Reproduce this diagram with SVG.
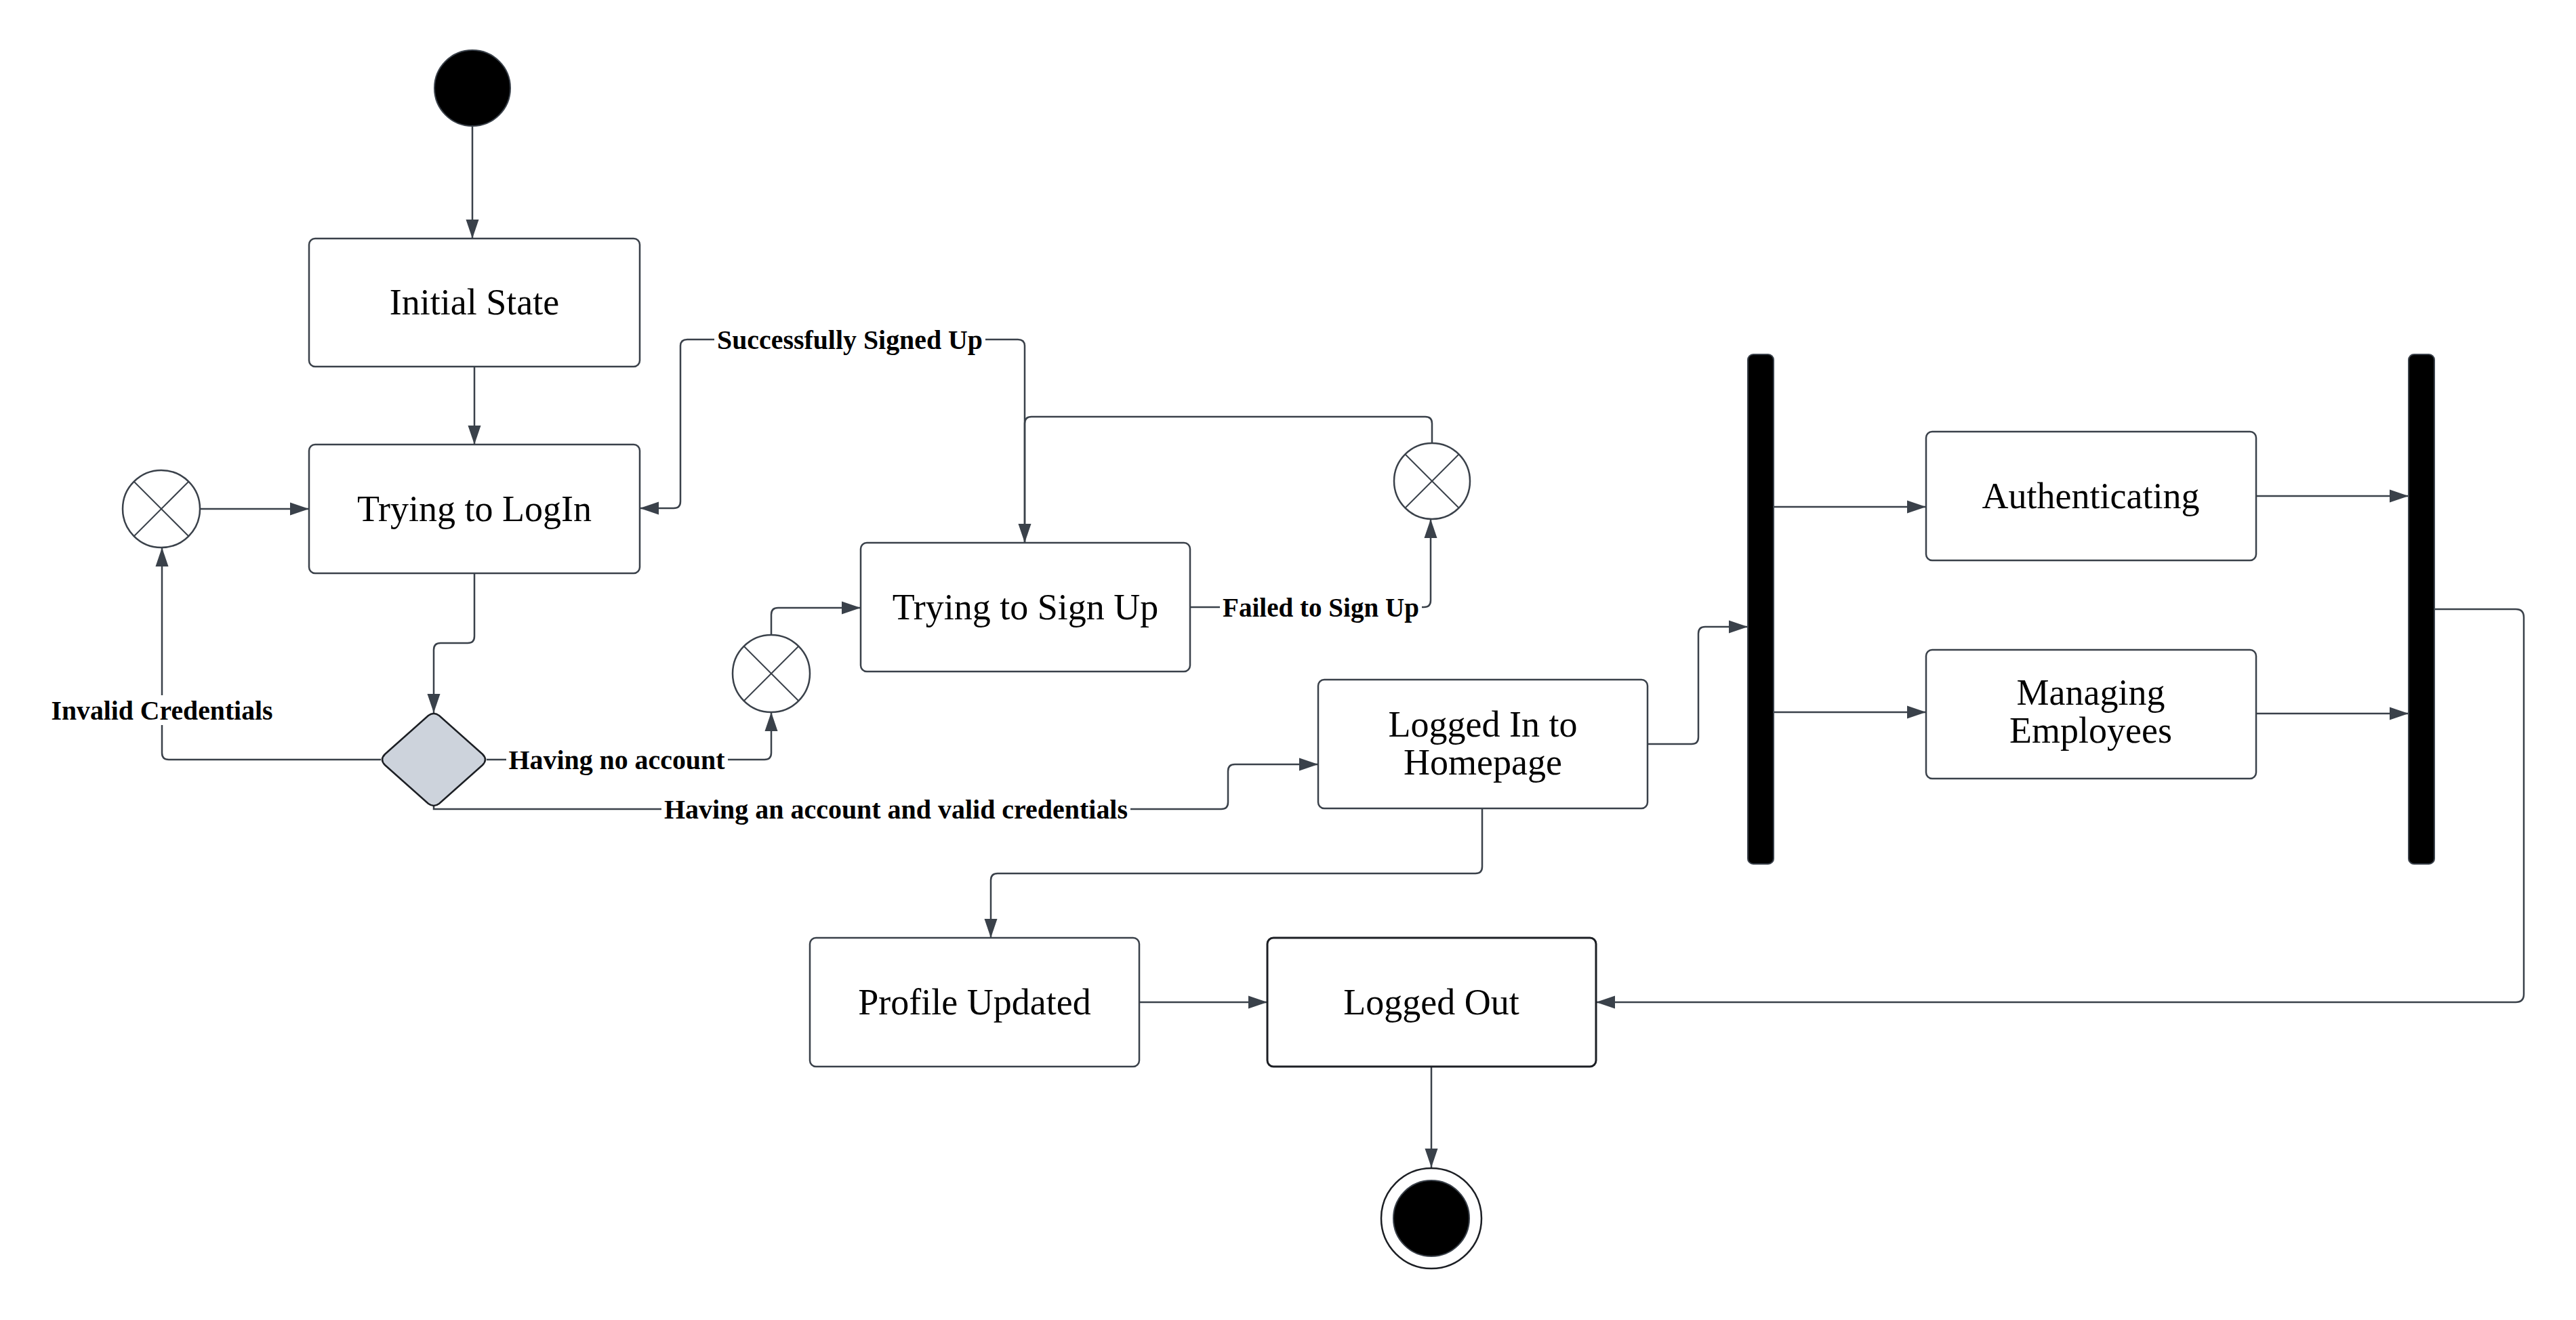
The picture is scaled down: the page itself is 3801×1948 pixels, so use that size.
<svg xmlns="http://www.w3.org/2000/svg" width="3801" height="1948" viewBox="0 0 3801 1948">
<style>
.box{fill:#fff;stroke:#3a414a;stroke-width:2.5}
.dark{fill:#fff;stroke:#1c1f24;stroke-width:3}
.t{font-family:"Liberation Serif",serif;font-size:54px;fill:#000;text-anchor:middle;dominant-baseline:central}
.lbl{font-family:"Liberation Serif",serif;font-size:39px;font-weight:bold;fill:#000;text-anchor:middle;dominant-baseline:central}
.bg{fill:#fff;stroke:none}
.c{fill:none;stroke:#3a414a;stroke-width:2.5}
.ca{fill:none;stroke:#3a414a;stroke-width:2.5;marker-end:url(#arr)}
.x{fill:#fff;stroke:#3a414a;stroke-width:2.5}
.xl{stroke:#3a414a;stroke-width:2}
.bar{fill:#000;stroke:#3a414a;stroke-width:2}
</style>
<defs>
<marker id="arr" markerUnits="userSpaceOnUse" markerWidth="28" markerHeight="20" refX="28" refY="10" orient="auto">
<path d="M0,0.5 L28,10 L0,19.5 z" fill="#3a414a"/>
</marker>
</defs>
<rect width="3801" height="1948" fill="#fff"/>

<g id="connectors">
<path class="ca" d="M697,186 L697,352"/>
<path class="ca" d="M700,541 L700,656"/>
<path class="ca" d="M295,751 L456,751"/>
<path class="ca" d="M700,846 L700,939 Q700,949 690,949 L650,949 Q640,949 640,959 L640,1052"/>
<path class="ca" d="M562,1121 L249,1121 Q239,1121 239,1111 L239,808"/>
<path class="ca" d="M718,1121 L1128,1121 Q1138,1121 1138,1111 L1138,1051"/>
<path class="ca" d="M1138,937 L1138,907 Q1138,897 1148,897 L1270,897"/>
<path class="ca" d="M640,1190 L640,1194 L1802,1194 Q1812,1194 1812,1184 L1812,1138 Q1812,1128 1822,1128 L1945,1128"/>
<path class="ca" d="M1512,801 L1512,511 Q1512,501 1502,501 L1014,501 Q1004,501 1004,511 L1004,740 Q1004,750 994,750 L944,750"/>
<path class="ca" d="M2113,654 L2113,625 Q2113,615 2103,615 L1522,615 Q1512,615 1512,625 L1512,801"/>
<path class="ca" d="M1756,896 L2101,896 Q2111,896 2111,886 L2111,766"/>
<path class="ca" d="M2431,1098 L2496,1098 Q2506,1098 2506,1088 L2506,935 Q2506,925 2516,925 L2579,925"/>
<path class="ca" d="M2617,748 L2842,748"/>
<path class="ca" d="M2617,1051 L2842,1051"/>
<path class="ca" d="M3329,732 L3554,732"/>
<path class="ca" d="M3329,1053 L3554,1053"/>
<path class="ca" d="M3592,899 L3712,899 Q3724,899 3724,911 L3724,1467 Q3724,1479 3712,1479 L2355,1479"/>
<path class="ca" d="M2187,1193 L2187,1279 Q2187,1289 2177,1289 L1472,1289 Q1462,1289 1462,1299 L1462,1384"/>
<path class="ca" d="M1681,1479 L1870,1479"/>
<path class="ca" d="M2112,1574 L2112,1723"/>

<rect class="bg" x="71" y="1026" width="335" height="44"/>
<text class="lbl" x="239" y="1048" textLength="327" lengthAdjust="spacingAndGlyphs">Invalid Credentials</text>
<rect class="bg" x="747" y="1099" width="327" height="44"/>
<text class="lbl" x="910" y="1121" textLength="319" lengthAdjust="spacingAndGlyphs">Having no account</text>
<rect class="bg" x="1054" y="479" width="400" height="44"/>
<text class="lbl" x="1254" y="501" textLength="392" lengthAdjust="spacingAndGlyphs">Successfully Signed Up</text>
<rect class="bg" x="1800" y="874" width="298" height="44"/>
<text class="lbl" x="1949" y="896" textLength="290" lengthAdjust="spacingAndGlyphs">Failed to Sign Up</text>
<rect class="bg" x="976" y="1172" width="692" height="44"/>
<text class="lbl" x="1322" y="1194" textLength="684" lengthAdjust="spacingAndGlyphs">Having an account and valid credentials</text>
</g>

<g id="start"><circle cx="697" cy="130" r="56" fill="#000" stroke="#3a414a" stroke-width="2"/></g>

<g id="initial-state"><rect class="box" x="456" y="352" width="488" height="189" rx="9"/><text class="t" x="700" y="446">Initial State</text></g>
<g id="trying-login"><rect class="box" x="456" y="656" width="488" height="190" rx="9"/><text class="t" x="700" y="751">Trying to LogIn</text></g>

<g id="merge-left"><circle class="x" cx="238" cy="751" r="57"/><line class="xl" x1="198" y1="711" x2="278" y2="791"/><line class="xl" x1="278" y1="711" x2="198" y2="791"/></g>
<g id="merge-mid"><circle class="x" cx="1138" cy="994" r="57"/><line class="xl" x1="1098" y1="954" x2="1178" y2="1034"/><line class="xl" x1="1178" y1="954" x2="1098" y2="1034"/></g>
<g id="merge-right"><circle class="x" cx="2113" cy="710" r="56"/><line class="xl" x1="2073" y1="670" x2="2153" y2="750"/><line class="xl" x1="2153" y1="670" x2="2073" y2="750"/></g>

<g id="decision"><path d="M632,1056 Q640,1050 648,1056 L712,1113 Q720,1121 712,1129 L648,1186 Q640,1192 632,1186 L568,1129 Q560,1121 568,1113 Z" fill="#cdd3dc" stroke="#1c1f24" stroke-width="2.5"/></g>

<g id="trying-signup"><rect class="box" x="1270" y="801" width="486" height="190" rx="9"/><text class="t" x="1513" y="896">Trying to Sign Up</text></g>
<g id="homepage"><rect class="box" x="1945" y="1003" width="486" height="190" rx="9"/><text class="t" x="2188" y="1069">Logged In to</text><text class="t" x="2188" y="1125">Homepage</text></g>
<g id="profile-updated"><rect class="box" x="1195" y="1384" width="486" height="190" rx="9"/><text class="t" x="1438" y="1479">Profile Updated</text></g>
<g id="logged-out"><rect class="dark" x="1870" y="1384" width="485" height="190" rx="9"/><text class="t" x="2112" y="1479">Logged Out</text></g>

<g id="fork"><rect class="bar" x="2579" y="523" width="38" height="752" rx="8"/></g>
<g id="join"><rect class="bar" x="3554" y="523" width="38" height="752" rx="8"/></g>

<g id="authenticating"><rect class="box" x="2842" y="637" width="487" height="190" rx="9"/><text class="t" x="3085" y="732">Authenticating</text></g>
<g id="managing"><rect class="box" x="2842" y="959" width="487" height="190" rx="9"/><text class="t" x="3085" y="1022">Managing</text><text class="t" x="3085" y="1078">Employees</text></g>

<g id="end"><circle cx="2112" cy="1798" r="74" fill="#fff" stroke="#1c1f24" stroke-width="2.5"/><circle cx="2112" cy="1798" r="56" fill="#000" stroke="#3a414a" stroke-width="2"/></g>
</svg>
